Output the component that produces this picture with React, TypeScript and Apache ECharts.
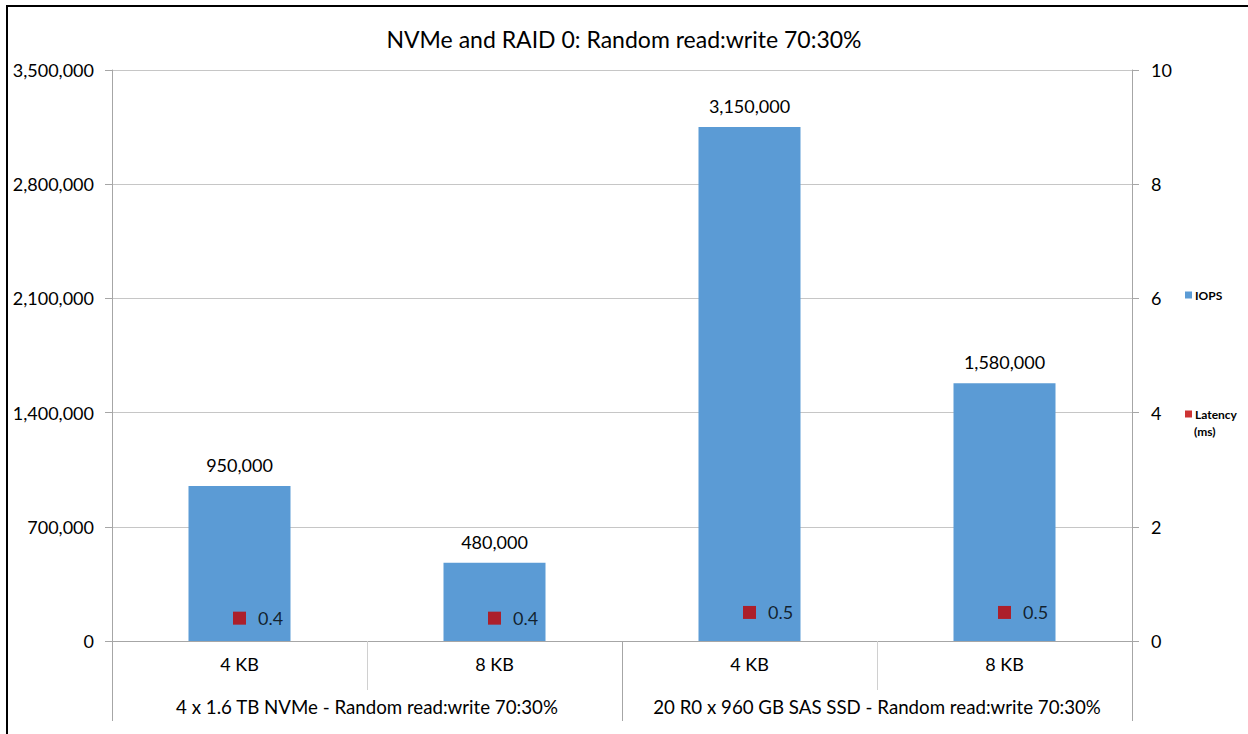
import React, { useEffect, useRef } from "react";
import * as echarts from "echarts";

const titleText = "NVMe and RAID 0: Random read:write 70:30%";
const blockSizes = ["4 KB", "8 KB", "4 KB", "8 KB"];
const groups = [
  "4 x 1.6 TB NVMe - Random read:write 70:30%",
  "20 R0 x 960 GB SAS SSD - Random read:write 70:30%",
];
const iops = [950000, 480000, 3150000, 1580000];
const latency = [0.4, 0.4, 0.5, 0.5];
const iopsAxis = { min: 0, max: 3500000, interval: 700000 };
const latencyAxis = { min: 0, max: 10, interval: 2 };

const FONT = "Lato, 'Noto Sans', sans-serif";
const fmt = (v: number) => Math.round(v).toLocaleString("en-US");

export default function App() {
  const ref = useRef<HTMLDivElement>(null);
  useEffect(() => {
    if (!ref.current) return;
    const chart = echarts.init(ref.current, null, { renderer: "svg" });
    const gridColor = "#c6c6c6";
    const axisColor = "#a6a6a6";
    chart.setOption({
      animation: false,
      backgroundColor: "#ffffff",
      textStyle: { fontFamily: FONT },
      title: {
        text: titleText,
        left: "center",
        top: 22,
        textStyle: { fontFamily: FONT, fontSize: 23, fontWeight: "normal", color: "#000" },
      },
      legend: {
        orient: "vertical",
        left: 1180,
        top: 284,
        itemGap: 107,
        itemWidth: 7,
        itemHeight: 7,
        icon: "rect",
        data: ["IOPS", "Latency (ms)"],
        formatter: (name: string) => (name === "Latency (ms)" ? "Latency" : name),
        textStyle: { fontFamily: FONT, fontSize: 12, fontWeight: "bold", color: "#000", padding: [0, 0, 0, -2] },
      },
      graphic: [
        {
          type: "rect",
          shape: { x: 7, y: 6, width: 1400, height: 900 },
          style: { fill: "none", stroke: "#000", lineWidth: 2 },
          silent: true,
        },
        {
          type: "text",
          left: 1194,
          top: 425,
          style: { text: "(ms)", fontFamily: FONT, fontSize: 12, fontWeight: "bold", fill: "#000" },
        },
      ],
      grid: { left: 112, right: 116, top: 70, bottom: 93, containLabel: false },
      xAxis: [
        {
          type: "category",
          data: blockSizes,
          position: "bottom",
          axisLine: { show: true, lineStyle: { color: axisColor } },
          axisTick: { show: true, length: 49, interval: 0, lineStyle: { color: "#d0d0d0" } },
          axisLabel: { fontFamily: FONT, fontSize: 18, color: "#000", margin: 14, interval: 0 },
        },
        {
          type: "category",
          data: groups,
          position: "bottom",
          offset: 0,
          axisLine: { show: false },
          axisTick: { show: true, length: 80, interval: 0, lineStyle: { color: axisColor } },
          axisLabel: { fontFamily: FONT, fontSize: 18.7, color: "#000", margin: 56, interval: 0 },
        },
      ],
      yAxis: [
        {
          type: "value",
          position: "left",
          min: iopsAxis.min,
          max: iopsAxis.max,
          interval: iopsAxis.interval,
          axisLine: { show: true, lineStyle: { color: axisColor } },
          axisTick: { show: true, length: 7, lineStyle: { color: axisColor } },
          splitLine: { show: true, lineStyle: { color: gridColor } },
          axisLabel: { fontFamily: FONT, fontSize: 18, color: "#000", margin: 18, formatter: fmt },
        },
        {
          type: "value",
          position: "right",
          min: latencyAxis.min,
          max: latencyAxis.max,
          interval: latencyAxis.interval,
          axisLine: { show: true, lineStyle: { color: axisColor } },
          axisTick: { show: true, length: 7, lineStyle: { color: axisColor } },
          splitLine: { show: false },
          axisLabel: { fontFamily: FONT, fontSize: 18, color: "#000", margin: 19 },
        },
      ],
      series: [
        {
          name: "IOPS",
          type: "bar",
          xAxisIndex: 0,
          yAxisIndex: 0,
          data: iops,
          barWidth: "40%",
          itemStyle: { color: "#5b9bd5" },
          label: {
            show: true,
            position: "top",
            distance: 12,
            fontFamily: FONT,
            fontSize: 18,
            color: "#000",
            formatter: (p: any) => fmt(p.value),
          },
        },
        {
          name: "Latency (ms)",
          type: "scatter",
          xAxisIndex: 0,
          yAxisIndex: 1,
          data: latency,
          symbol: "rect",
          symbolSize: 13,
          itemStyle: { color: "#c00000" },
          label: {
            show: true,
            position: "right",
            distance: 12,
            fontFamily: FONT,
            fontSize: 18,
            color: "#000",
          },
        },
      ],
    });
    return () => chart.dispose();
  }, []);
  return (
    <div
      ref={ref}
      style={{ position: "fixed", left: 0, top: 0, width: 1248, height: 734 }}
    />
  );
}
